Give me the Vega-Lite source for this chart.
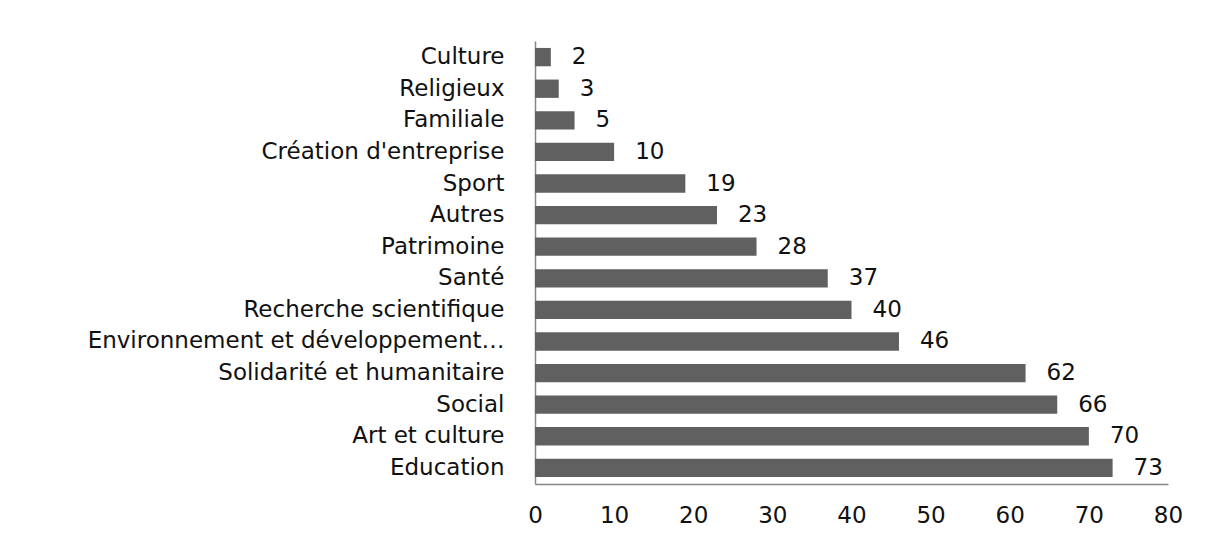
{
  "$schema": "https://vega.github.io/schema/vega-lite/v6.json",
  "autosize": {"type": "none"},
  "width": 633,
  "height": 443,
  "padding": {"left": 535, "top": 41, "right": 42, "bottom": 56},
  "background": "white",
  "config": {
    "view": {"stroke": null},
    "font": "DejaVu Sans"
  },
  "data": {
    "values": [
      {"domaine": "Culture", "nombre": 2},
      {"domaine": "Religieux", "nombre": 3},
      {"domaine": "Familiale", "nombre": 5},
      {"domaine": "Création d'entreprise", "nombre": 10},
      {"domaine": "Sport", "nombre": 19},
      {"domaine": "Autres", "nombre": 23},
      {"domaine": "Patrimoine", "nombre": 28},
      {"domaine": "Santé", "nombre": 37},
      {"domaine": "Recherche scientifique", "nombre": 40},
      {"domaine": "Environnement et développement…", "nombre": 46},
      {"domaine": "Solidarité et humanitaire", "nombre": 62},
      {"domaine": "Social", "nombre": 66},
      {"domaine": "Art et culture", "nombre": 70},
      {"domaine": "Education", "nombre": 73}
    ]
  },
  "encoding": {
    "y": {
      "field": "domaine",
      "type": "nominal",
      "sort": {"field": "nombre", "order": "ascending"},
      "scale": {"paddingInner": 0.42, "paddingOuter": 0.22},
      "axis": {
        "title": null,
        "ticks": false,
        "domainColor": "#868686",
        "domainWidth": 1.5,
        "labelFont": "DejaVu Sans",
        "labelFontSize": 23,
        "labelColor": "#111111",
        "labelPadding": 31,
        "labelLimit": 600
      }
    },
    "x": {
      "field": "nombre",
      "type": "quantitative",
      "scale": {"domain": [0, 80], "nice": false},
      "axis": {
        "title": null,
        "values": [0, 10, 20, 30, 40, 50, 60, 70, 80],
        "ticks": false,
        "grid": false,
        "labelFlush": false,
        "labelOverlap": false,
        "domainColor": "#868686",
        "domainWidth": 1.5,
        "labelFont": "DejaVu Sans",
        "labelFontSize": 23,
        "labelColor": "#111111",
        "labelPadding": 20
      }
    }
  },
  "layer": [
    {"mark": {"type": "bar", "color": "#606060"}},
    {
      "mark": {"type": "text", "align": "left", "baseline": "middle", "dx": 21, "font": "DejaVu Sans", "fontSize": 23, "color": "#111111"},
      "encoding": {"text": {"field": "nombre", "type": "quantitative"}}
    }
  ]
}
